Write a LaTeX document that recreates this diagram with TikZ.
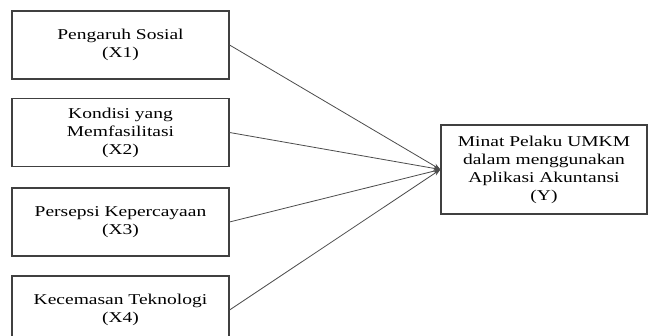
\documentclass[tikz,border=0pt]{standalone}
\usepackage{fontspec}
\setmainfont{Liberation Serif}
\newfontfamily\widetnr{Liberation Serif}[FakeStretch=1.3]
\usetikzlibrary{arrows.meta}
\begin{document}
\begin{tikzpicture}[x=1pt,y=1pt,
  box/.style={draw=black!75,line width=1.1pt,minimum width=217pt,minimum height=68pt,inner sep=0pt,
    align=center,font=\widetnr\fontsize{15}{18}\selectfont,text=black},
  link/.style={draw=black!70,line width=0.8pt,-{Stealth[length=7pt,width=5pt]}}]
\clip (0,0) rectangle (648,336);
\fill[white] (0,0) rectangle (648,336);
\node[box] (x1) at (120.5,291) {Pengaruh Sosial\\(X1)};
\node[box] (x2) at (120.5,203.5) {Kondisi yang\\Memfasilitasi\\(X2)};
\node[box] (x3) at (120.5,114) {Persepsi Kepercayaan\\(X3)};
\node[box] (x4) at (120.5,26) {Kecemasan Teknologi\\(X4)};
\node[box,minimum width=206pt,minimum height=89pt] (y) at (544,166.5) {Minat Pelaku UMKM\\dalam menggunakan\\Aplikasi Akuntansi\\(Y)};
\coordinate (yin) at (y.west);
\draw[link] (x1.east) -- (yin);
\draw[link] (x2.east) -- (yin);
\draw[link] (x3.east) -- (yin);
\draw[link] (x4.east) -- (yin);
\end{tikzpicture}
\end{document}
